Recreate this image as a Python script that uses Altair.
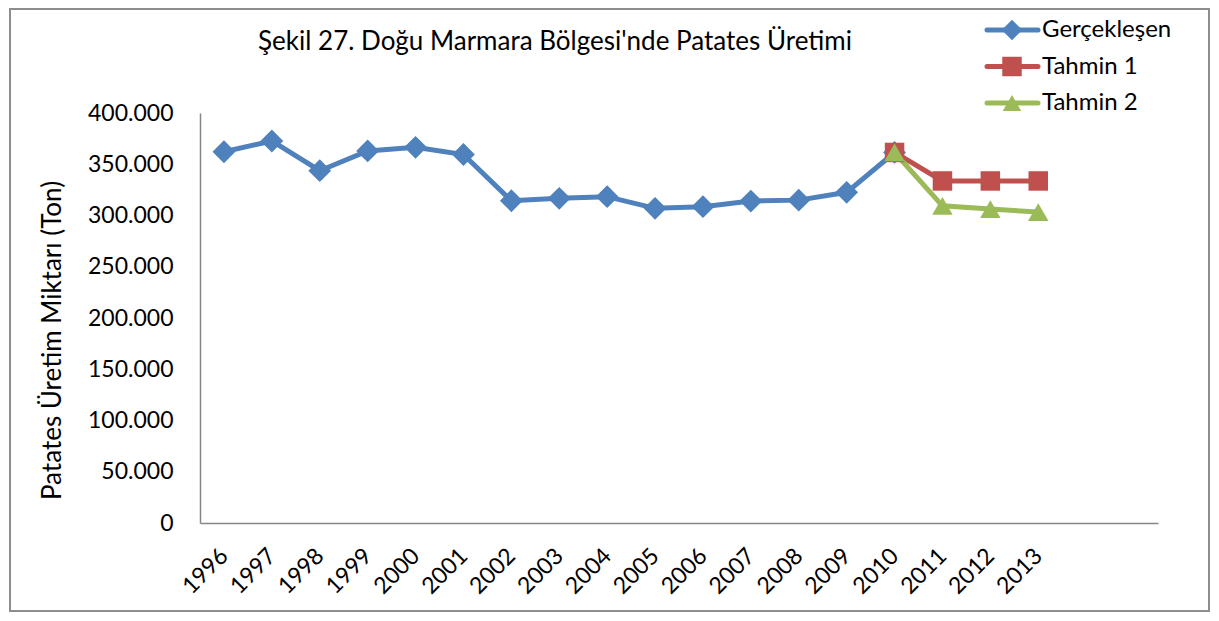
import altair as alt
import pandas as pd

years = [1996, 1997, 1998, 1999, 2000, 2001, 2002, 2003, 2004, 2005,
         2006, 2007, 2008, 2009, 2010]
gerceklesen = [362200, 372700, 343700, 363000, 366500, 359500, 314400, 316800,
               318400, 307000, 308600, 314100, 315000, 322600, 361500]
tahmin_years = [2010, 2011, 2012, 2013]
tahmin1 = [361500, 333700, 333700, 333700]
tahmin2 = [361500, 309400, 306300, 303400]
axis_years = list(range(1996, 2016))  # Excel axis leaves two empty slots
series = ["Gerçekleşen", "Tahmin 1", "Tahmin 2"]
colors = ["#4F81BD", "#C0504D", "#9BBB59"]
marker_shapes = ["diamond", "square", "triangle-up"]
marker_sizes = [520, 380, 420]
y_ticks = [0, 50000, 100000, 150000, 200000, 250000, 300000, 350000, 400000]
title_text = "Şekil 27. Doğu Marmara Bölgesi'nde Patates Üretimi"
y_title = "Patates Üretim Miktarı (Ton)"

rows = []
for yr, v in zip(years, gerceklesen):
    rows.append({"seri": series[0], "yil": yr, "deger": v})
for yr, v in zip(tahmin_years, tahmin1):
    rows.append({"seri": series[1], "yil": yr, "deger": v})
for yr, v in zip(tahmin_years, tahmin2):
    rows.append({"seri": series[2], "yil": yr, "deger": v})
df = pd.DataFrame(rows)
legend_df = pd.DataFrame({"seri": series})

FONT = "Lato"

x_enc = alt.X(
    "yil:O",
    scale=alt.Scale(domain=axis_years, padding=0.5),
    axis=alt.Axis(
        title=None,
        labelExpr="datum.value > 2013 ? '' : datum.value",
        labelAngle=-45,
        labelAlign="right",
        labelBaseline="middle",
        labelPadding=29,
        labelFontSize=23,
        labelFont=FONT,
        labelColor="#000000",
        ticks=False,
        domainColor="#868686",
        domainWidth=1.5,
        grid=False,
    ),
)
y_enc = alt.Y(
    "deger:Q",
    scale=alt.Scale(domain=[0, 400000], nice=False, zero=True),
    axis=alt.Axis(
        title=y_title,
        titleFont=FONT,
        titleFontSize=26,
        titleFontWeight="normal",
        titleColor="#000000",
        titleX=-148,
        titleY=227,
        titleAngle=-90,
        titleAlign="center",
        titleBaseline="middle",
        values=y_ticks,
        labelExpr="replace(format(datum.value, ','), regexp(',', 'g'), '.')",
        labelFontSize=23,
        labelFont=FONT,
        labelColor="#000000",
        labelPadding=27,
        ticks=False,
        domainColor="#868686",
        domainWidth=1.5,
        grid=False,
    ),
)
color_enc = alt.Color("seri:N", scale=alt.Scale(domain=series, range=colors), legend=None)

base = alt.Chart(df).encode(x=x_enc, y=y_enc)

lines = base.mark_line(strokeWidth=5).encode(color=color_enc, detail="seri:N")

point_layers = []
for s, shp, sz in zip(series, marker_shapes, marker_sizes):
    point_layers.append(
        base.mark_point(filled=True, opacity=1, shape=shp, size=sz)
        .encode(color=color_enc)
        .transform_filter(alt.datum.seri == s)
    )

main = alt.layer(lines, *point_layers)

# Legend drawn with marks (line + marker + label), rows placed by a point scale
leg_y = alt.Y(
    "seri:N",
    scale=alt.Scale(type="point", domain=series, range=[-83, -10], padding=0),
    axis=None,
)
leg_base = alt.Chart(legend_df).encode(y=leg_y)
leg_line = leg_base.mark_rule(strokeWidth=5, strokeCap="round").encode(
    x=alt.value(787), x2=alt.value(838), color=color_enc
)
leg_pts = leg_base.mark_point(filled=True, opacity=1).encode(
    x=alt.value(812),
    color=color_enc,
    shape=alt.Shape("seri:N", scale=alt.Scale(domain=series, range=marker_shapes), legend=None),
    size=alt.Size("seri:N", scale=alt.Scale(domain=series, range=[420, 340, 360]), legend=None),
)
leg_text = leg_base.mark_text(
    align="left", baseline="middle", font=FONT, fontSize=24, color="#000000"
).encode(x=alt.value(842), text="seri:N")
legend = alt.layer(leg_line, leg_pts, leg_text)

frame = alt.Chart(legend_df).mark_rect(fill=None, stroke="#8c8c8c", strokeWidth=1.5).encode(
    x=alt.value(-190), x2=alt.value(1009), y=alt.value(-104), y2=alt.value(498)
)

chart = alt.layer(frame, main, legend).resolve_scale(y="independent").properties(
    width=958,
    height=410,
    padding={"left": 192, "top": 105, "right": 53, "bottom": 90},
    autosize=alt.AutoSizeParams(type="none"),
    title=alt.Title(
        title_text,
        font=FONT,
        fontSize=26,
        fontWeight="normal",
        color="#000000",
        anchor="middle",
        frame="group",
        dx=-124,
        offset=0,
        dy=47,
    ),
).configure_view(stroke=None)

chart.save("out.html", embed_options={"renderer": "svg", "actions": False})
